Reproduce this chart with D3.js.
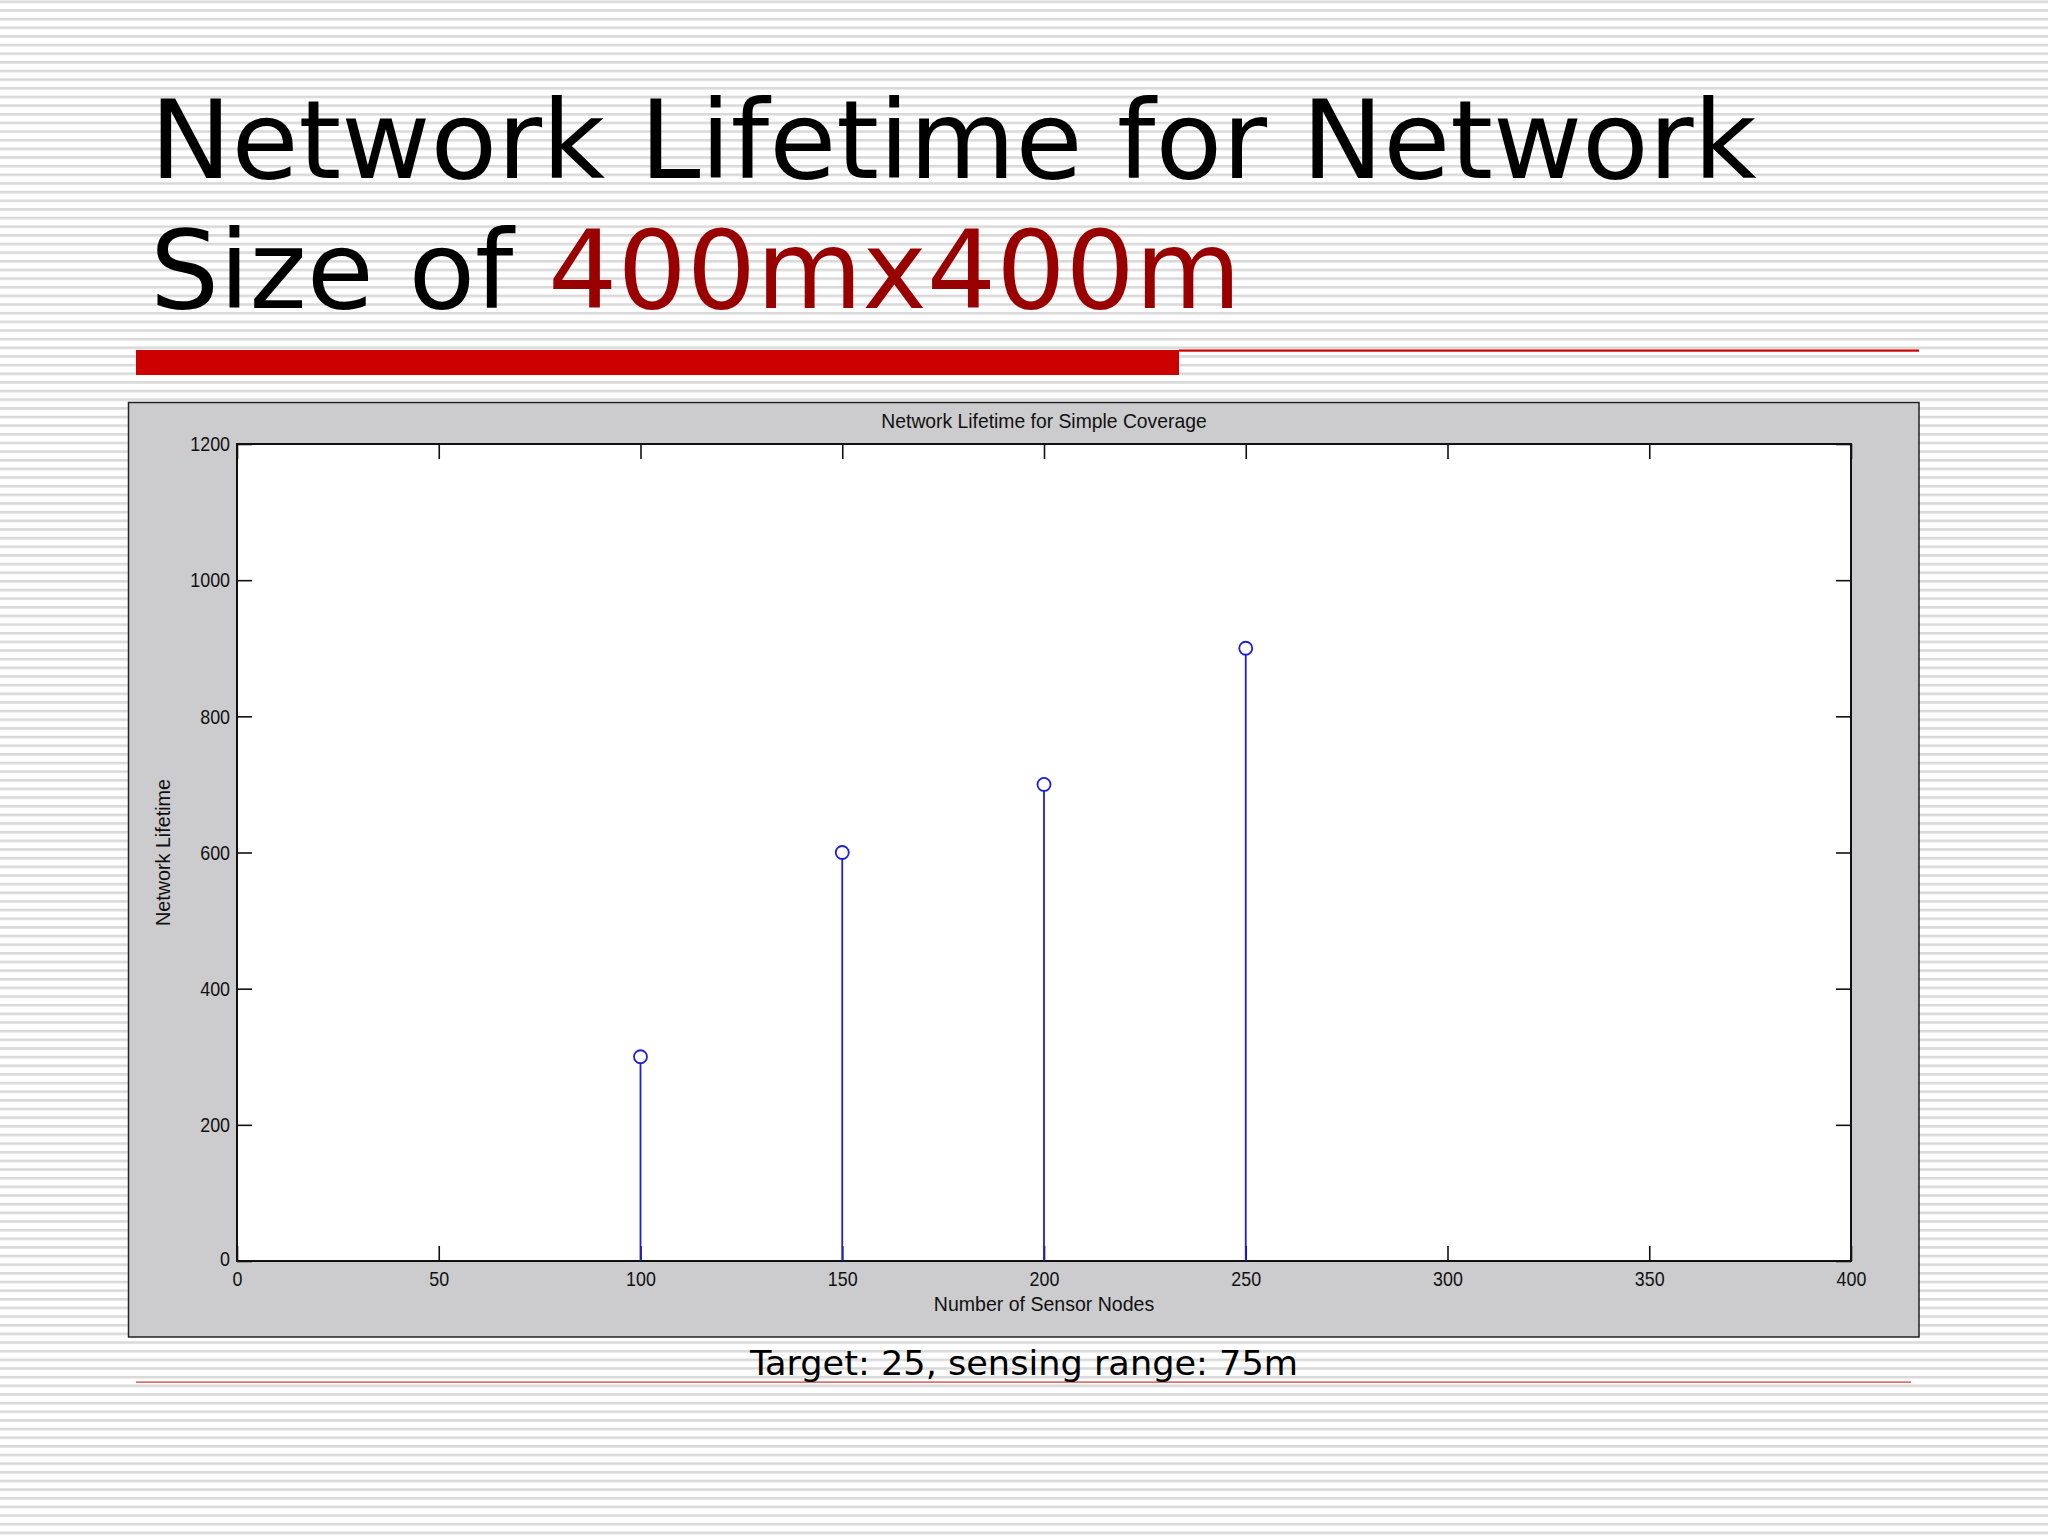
<!DOCTYPE html>
<html>
<head>
<meta charset="utf-8">
<script src="https://cdn.jsdelivr.net/npm/d3@7"></script>
<style>
html,body{margin:0;padding:0;background:#fff;}
svg{display:block;}
</style>
</head>
<body>
<script>
// ---- data ----
const nodes = [100, 150, 200, 250];
const lifetime = [300, 600, 700, 900];
const xTicks = [0, 50, 100, 150, 200, 250, 300, 350, 400];
const yTicks = [0, 200, 400, 600, 800, 1000, 1200];
const titleLine1 = "Network Lifetime for Network";
const titleLine2a = "Size of ";
const titleLine2b = "400mx400m";
const chartTitle = "Network Lifetime for Simple Coverage";
const xLabel = "Number of Sensor Nodes";
const yLabel = "Network Lifetime";
const footer = "Target: 25, sensing range: 75m";

const W = 2048, H = 1536;
const svg = d3.select("body").append("svg").attr("width", W).attr("height", H);

// narrow a text element horizontally (MATLAB-style condensed glyphs)
function squeeze(sel, k) {
  sel.each(function () {
    const len = this.getComputedTextLength();
    if (len > 0) d3.select(this).attr("textLength", len * k).attr("lengthAdjust", "spacingAndGlyphs");
  });
}

// striped background
const defs = svg.append("defs");
const pat = defs.append("pattern").attr("id", "stripes")
  .attr("patternUnits", "userSpaceOnUse").attr("width", 20).attr("height", 8.65)
  .attr("y", 0.5);
pat.append("rect").attr("width", 20).attr("height", 8.65).attr("fill", "#ffffff");
pat.append("rect").attr("y", 0).attr("width", 20).attr("height", 2.6).attr("fill", "#d9d9d9");
svg.append("rect").attr("width", W).attr("height", H).attr("fill", "url(#stripes)");

// slide title
const title = svg.append("text").attr("font-family", "DejaVu Sans, Verdana, sans-serif")
  .attr("font-size", 109).attr("fill", "#000");
title.append("tspan").attr("x", 150).attr("y", 178).text(titleLine1);
const t2 = title.append("tspan").attr("x", 150).attr("y", 308);
t2.append("tspan").text(titleLine2a);
t2.append("tspan").attr("fill", "#990000").text(titleLine2b);

// red bars
svg.append("rect").attr("x", 136).attr("y", 350).attr("width", 1179 - 136).attr("height", 25).attr("fill", "#cc0000");
svg.append("rect").attr("x", 1179).attr("y", 349.5).attr("width", 1919 - 1179).attr("height", 2.2).attr("fill", "#cc0000");
svg.append("rect").attr("x", 136).attr("y", 1381.5).attr("width", 1911 - 136).attr("height", 1.2).attr("fill", "#cc3333");

// chart figure box
svg.append("rect").attr("x", 128.5).attr("y", 402.5).attr("width", 1919 - 128.5).attr("height", 1337 - 402.5)
  .attr("fill", "#cccbce").attr("stroke", "#222").attr("stroke-width", 1.5);

const L = 237, R = 1851, T = 444, B = 1261;
const x = d3.scaleLinear().domain([0, 400]).range([L, R]);
const y = d3.scaleLinear().domain([0, 1200]).range([B, T]);

svg.append("rect").attr("x", L).attr("y", T).attr("width", R - L).attr("height", B - T).attr("fill", "#fff");

const tickFont = "Liberation Sans, Arial, sans-serif";
const fs = 21;

// axes
const gx = svg.append("g").attr("transform", `translate(0,${B})`)
  .call(d3.axisBottom(x).tickValues(xTicks).tickSizeInner(-15).tickSizeOuter(0).tickPadding(24).tickFormat(d3.format("d")));
const gxt = svg.append("g").attr("transform", `translate(0,${T})`)
  .call(d3.axisTop(x).tickValues(xTicks).tickSizeInner(-15).tickSizeOuter(0).tickFormat(""));
const gy = svg.append("g").attr("transform", `translate(${L},0)`)
  .call(d3.axisLeft(y).tickValues(yTicks).tickSizeInner(-15).tickSizeOuter(0).tickPadding(7).tickFormat(d3.format("d")));
const gyr = svg.append("g").attr("transform", `translate(${R},0)`)
  .call(d3.axisRight(y).tickValues(yTicks).tickSizeInner(-15).tickSizeOuter(0).tickFormat(""));

[gx, gxt, gy, gyr].forEach(g => {
  g.select(".domain").remove();
  g.selectAll(".tick line").attr("stroke", "#111").attr("stroke-width", 1.6);
  g.selectAll("text").attr("font-family", tickFont).attr("font-size", fs).attr("fill", "#111");
});
gx.selectAll("text").attr("dy", null).attr("y", 25);
gy.selectAll("text").attr("dy", "0.32em");
gy.selectAll(".tick").filter(d => d === 0).select("text").attr("dy", "0.2em");
squeeze(gx.selectAll("text"), 0.85);
squeeze(gy.selectAll("text"), 0.85);

// plot frame
svg.append("rect").attr("x", L).attr("y", T).attr("width", R - L).attr("height", B - T)
  .attr("fill", "none").attr("stroke", "#111").attr("stroke-width", 2);

// stems
const data = nodes.map((n, i) => ({ n, v: lifetime[i] }));
svg.append("g").selectAll("line").data(data).join("line")
  .attr("x1", d => x(d.n)).attr("x2", d => x(d.n))
  .attr("y1", y(0)).attr("y2", d => y(d.v))
  .attr("stroke", "#1f1fd6").attr("stroke-width", 1.8);
svg.append("g").selectAll("circle").data(data).join("circle")
  .attr("cx", d => x(d.n)).attr("cy", d => y(d.v)).attr("r", 6.5)
  .attr("fill", "#fff").attr("stroke", "#1f1fd6").attr("stroke-width", 1.8);

// chart title and axis labels
const ct = svg.append("text").attr("x", (L + R) / 2).attr("y", 428).attr("text-anchor", "middle")
  .attr("font-family", tickFont).attr("font-size", fs).attr("fill", "#111").text(chartTitle);
const xl = svg.append("text").attr("x", (L + R) / 2).attr("y", 1311).attr("text-anchor", "middle")
  .attr("font-family", tickFont).attr("font-size", fs).attr("fill", "#111").text(xLabel);
const yl = svg.append("text").attr("transform", `translate(170,${(T + B) / 2}) rotate(-90)`).attr("text-anchor", "middle")
  .attr("font-family", tickFont).attr("font-size", fs).attr("fill", "#111").text(yLabel);
squeeze(ct, 0.92);
squeeze(xl, 0.93);
squeeze(yl, 0.94);

// footer
const ft = svg.append("text").attr("x", 1024).attr("y", 1375).attr("text-anchor", "middle")
  .attr("font-family", "DejaVu Sans Condensed, DejaVu Sans, sans-serif").attr("font-size", 33)
  .attr("fill", "#000").text(footer);
ft.attr("textLength", 548).attr("lengthAdjust", "spacingAndGlyphs");
</script>
</body>
</html>
